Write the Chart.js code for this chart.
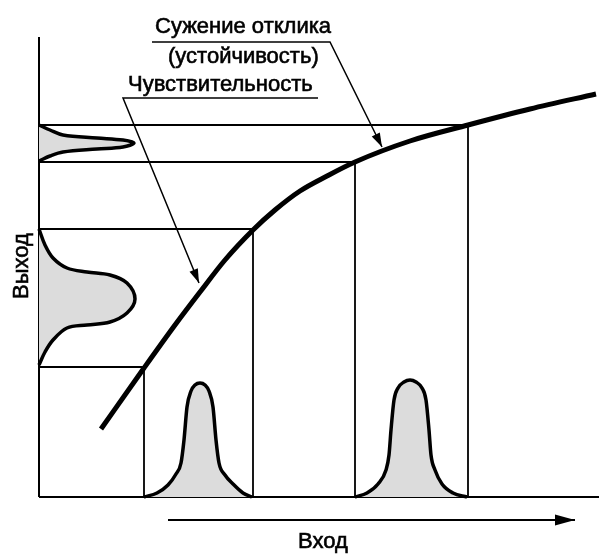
<!DOCTYPE html>
<html lang="ru">
<head>
<meta charset="utf-8">
<title>Чувствительность и устойчивость</title>
<script src="https://cdn.jsdelivr.net/npm/chart.js@4.4.1/dist/chart.umd.min.js"></script>
<style>
    html, body { margin: 0; padding: 0; background: #fff; }
    #wrap { position: relative; width: 599px; height: 554px; }
</style>
</head>
<body>
<div id="wrap"><canvas id="responseChart"></canvas></div>
<script>
// Axis ranges (arbitrary units, the figure is a schematic)
const inputMax = 560;
const outputMax = 460;

// Response curve: output as a function of input
const curveIn  = [62, 105, 136, 161, 186, 214, 236, 261, 288, 316, 371, 429, 491, 557];
const curveOut = [68, 129, 172, 205, 237, 267, 287, 306, 321, 335, 356, 372, 388, 403];

// Input levels and the outputs they map to (guide lines)
const guideIn  = [105, 214, 316, 429];
const guideOut = [130, 268, 335, 372];

// Input spread, low level (bottom left bump)
const lowInX = [105, 118, 129, 137, 142, 145, 148, 152, 156, 161, 166, 170, 174, 177, 180, 186, 194, 204, 213];
const lowInY = [0, 4, 12, 23, 34, 57, 90, 106, 112, 114, 112, 106, 90, 57, 34, 22, 13, 4, 0];

// Input spread, high level (bottom right bump)
const highInX = [316, 328, 339, 347, 350, 352, 355, 359, 365, 371, 377, 383, 387, 390, 392, 396, 403, 414, 428];
const highInY = [0, 4, 13, 27, 42, 67, 97, 109, 115, 117, 115, 109, 97, 67, 42, 27, 13, 4, 0];

// Output spread for the low input (wide bump on the output axis)
const lowOutX = [0, 6, 14, 28, 48, 71, 88, 96, 88, 71, 48, 28, 14, 6, 0];
const lowOutY = [132, 145, 157, 169, 172, 175, 184, 198, 214, 222, 225, 229, 239, 252, 268];

// Output spread for the high input (narrow bump on the output axis)
const highOutX = [0, 11, 24, 58, 84, 95, 84, 58, 24, 11, 0];
const highOutY = [336, 341, 345, 348, 350, 354, 357, 359, 362, 367, 372];

// Leader lines of the two captions, and the input arrow
const robustLeadX = [113, 291, 343];
const robustLeadY = [455, 455, 350];
const sensLeadX = [279, 84, 160];
const sensLeadY = [399, 399, 214];
const inputArrowX = [129, 536];
const inputArrowY = [-23, -23];

function pts(xs, ys) {
    return xs.map((x, i) => ({ x: x, y: ys[i] }));
}

function thinLine(xs, ys, width) {
    return {
        data: pts(xs, ys),
        borderColor: '#000',
        borderWidth: width,
        pointRadius: 0,
        tension: 0,
        fill: false,
        clip: false
    };
}

function bump(xs, ys, sideways) {
    const ds = {
        data: pts(xs, ys),
        borderColor: '#000',
        borderWidth: 3.5,
        backgroundColor: '#dcdcdc',
        pointRadius: 0,
        fill: 'origin',
        clip: false
    };
    if (sideways) {
        ds.indexAxis = 'y';
        ds.tension = 0.35;
    } else {
        ds.cubicInterpolationMode = 'monotone';
    }
    return ds;
}

// Text and arrow heads
const annotate = {
    id: 'annotate',
    afterDatasetsDraw(chart) {
        const ctx = chart.ctx;
        ctx.save();
        ctx.fillStyle = '#000';
        ctx.strokeStyle = '#000';

        // arrow heads at the end of flagged datasets
        chart.data.datasets.forEach((ds, i) => {
            if (!ds.arrowHead) return;
            const els = chart.getDatasetMeta(i).data;
            const tip = els[els.length - 1];
            const prev = els[els.length - 2];
            const a = Math.atan2(tip.y - prev.y, tip.x - prev.x);
            const len = ds.arrowHead[0], half = ds.arrowHead[1];
            ctx.save();
            ctx.translate(tip.x, tip.y);
            ctx.rotate(a);
            ctx.beginPath();
            ctx.moveTo(0, 0);
            ctx.lineTo(-len, -half);
            ctx.lineTo(-len, half);
            ctx.closePath();
            ctx.fill();
            ctx.restore();
        });

        // captions, a light stroke makes them as heavy as the scan
        ctx.font = '22px "Liberation Sans", Arial, sans-serif';
        ctx.lineWidth = 0.6;
        ctx.textBaseline = 'alphabetic';
        ctx.textAlign = 'left';
        const put = (txt, x, y) => { ctx.fillText(txt, x, y); ctx.strokeText(txt, x, y); };
        put('Сужение отклика', 155, 33);
        put('(устойчивость)', 168, 63);
        put('Чувствительность', 128, 91);
        put('Вход', 298, 548);

        ctx.save();
        ctx.translate(28, 266);
        ctx.rotate(-Math.PI / 2);
        ctx.textAlign = 'center';
        put('Выход', 0, 0);
        ctx.restore();

        ctx.restore();
    }
};

document.addEventListener('DOMContentLoaded', function() {
    const datasets = [];

    // response curve on top
    datasets.push({
        data: pts(curveIn, curveOut),
        borderColor: '#000',
        borderWidth: 5,
        pointRadius: 0,
        cubicInterpolationMode: 'monotone',
        fill: false,
        clip: false
    });

    // leader lines with arrows
    const robust = thinLine(robustLeadX, robustLeadY, 1.5);
    robust.arrowHead = [14, 4.5];
    datasets.push(robust);
    const sens = thinLine(sensLeadX, sensLeadY, 1.5);
    sens.arrowHead = [14, 4.5];
    datasets.push(sens);
    const inArrow = thinLine(inputArrowX, inputArrowY, 2);
    inArrow.arrowHead = [20, 5.5];
    datasets.push(inArrow);

    // spreads
    datasets.push(bump(lowInX, lowInY, false));
    datasets.push(bump(highInX, highInY, false));
    datasets.push(bump(lowOutX, lowOutY, true));
    datasets.push(bump(highOutX, highOutY, true));

    // guide lines: output axis -> curve -> input axis
    guideIn.forEach((gx, i) => {
        const gy = guideOut[i];
        datasets.push(thinLine([0, gx, gx], [gy, gy, 0], 1.8));
    });

    // axes
    datasets.push(thinLine([0, 0], [0, outputMax], 2));
    datasets.push(thinLine([0, inputMax], [0, 0], 2));

    new Chart(document.getElementById('responseChart'), {
        type: 'line',
        data: { datasets: datasets },
        options: {
            responsive: true,
            maintainAspectRatio: false,
            animation: false,
            events: [],
            layout: { padding: { left: 39, top: 37, right: 0, bottom: 57 } },
            scales: {
                x: { type: 'linear', min: 0, max: inputMax, display: false },
                y: { type: 'linear', min: 0, max: outputMax, display: false }
            },
            plugins: {
                legend: { display: false },
                tooltip: { enabled: false }
            }
        },
        plugins: [annotate]
    });
});
</script>
</body>
</html>
